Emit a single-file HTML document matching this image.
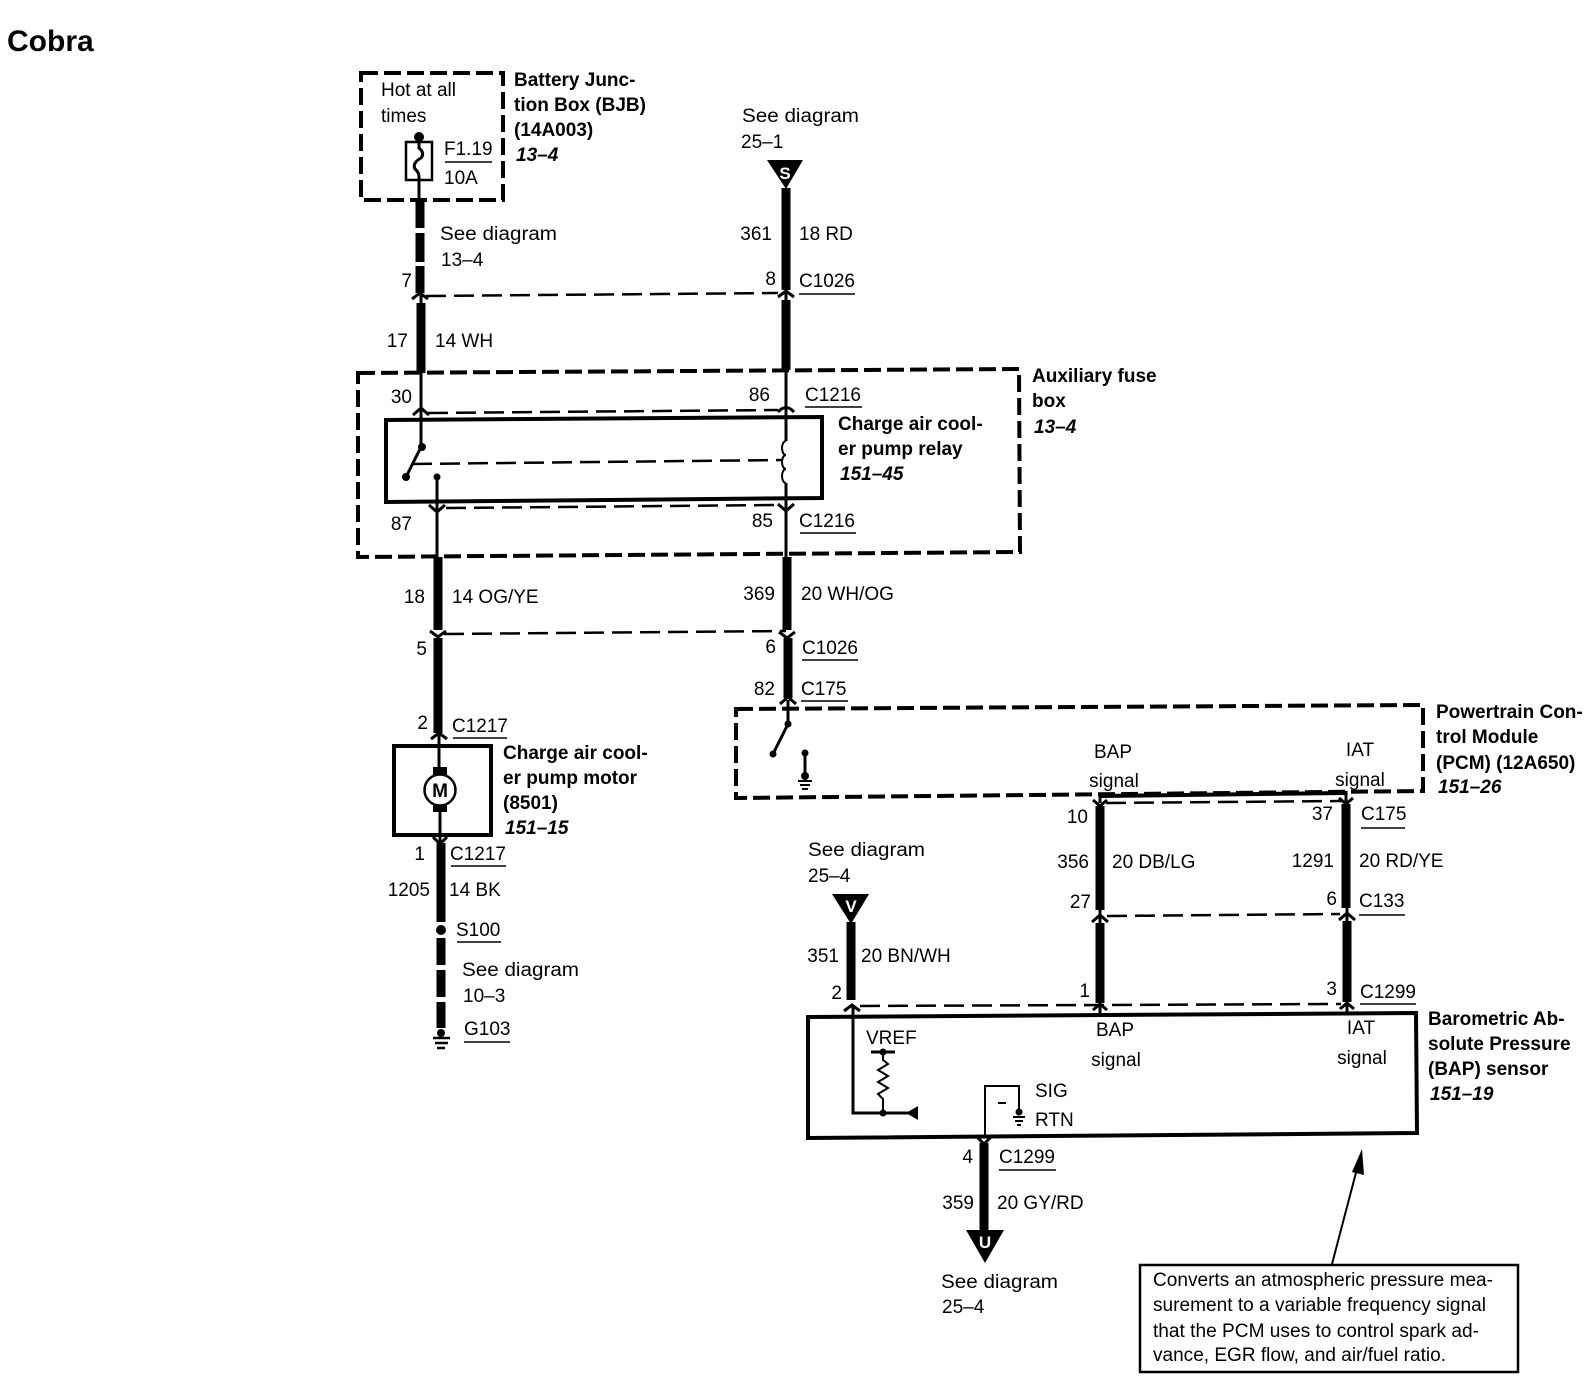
<!DOCTYPE html>
<html><head><meta charset="utf-8"><title>Cobra</title>
<style>
html,body{margin:0;padding:0;background:#fff}
svg{display:block}
text{font-family:"Liberation Sans",sans-serif;font-size:19px;fill:#000}
.b{font-weight:bold}
.bi{font-weight:bold;font-style:italic}
.e{text-anchor:end}
.m{text-anchor:middle}
.t{stroke:#000;stroke-width:9;fill:none}
.w{stroke:#000;stroke-width:3;fill:none}
.bx{stroke:#000;stroke-width:4;fill:none}
.d{stroke:#000;stroke-width:4;fill:none;stroke-dasharray:17 6}
.c{stroke:#000;stroke-width:2.5;fill:none;stroke-dasharray:20 8}
.u{stroke:#000;stroke-width:1.5;fill:none}
.a{stroke:#000;stroke-width:3;fill:none}
</style></head><body>
<svg width="1590" height="1392" viewBox="0 0 1590 1392" xmlns="http://www.w3.org/2000/svg">
<rect width="1590" height="1392" fill="#fff"/>
<text x="7" y="51" class="b" style="font-size:30px">Cobra</text>

<!-- BJB -->
<polygon class="d" points="361,73 503,73 503,200 361,200"/>
<text x="381" y="96">Hot at all</text>
<text x="381" y="122">times</text>
<circle cx="419" cy="137" r="5"/>
<rect x="406" y="142" width="26" height="38" fill="none" stroke="#000" stroke-width="2.5"/>
<path class="w" d="M419 137V148q6 5 2 10q-9 5 -6 11q4 3 4 8V200"/>
<text x="444" y="155">F1.19</text>
<path class="u" d="M445 162H492"/>
<text x="444" y="184">10A</text>
<text x="514" y="86" class="b">Battery Junc-</text>
<text x="514" y="111" class="b">tion Box (BJB)</text>
<text x="514" y="136" class="b">(14A003)</text>
<text x="516" y="161" class="bi">13–4</text>

<!-- wire 1 -->
<path class="t" d="M420 200V228M420 233V262M420 266V293M421 303V373"/>
<path class="a" d="M412 299L420 293L428 299"/>
<text x="440" y="240" textLength="117" lengthAdjust="spacingAndGlyphs">See diagram</text>
<text x="441" y="266">13–4</text>
<text x="412" y="287" class="e">7</text>
<text x="408" y="347" class="e">17</text>
<text x="435" y="347">14 WH</text>
<path class="w" d="M421 293V303"/>

<!-- S wire -->
<text x="742" y="122" textLength="117" lengthAdjust="spacingAndGlyphs">See diagram</text>
<text x="741" y="148">25–1</text>
<polygon points="767,160 803,160 786,189"/>
<text x="785" y="179" class="b m" style="fill:#fff;font-size:17px">S</text>
<path class="t" d="M786 188V290M786 300V370"/>
<path class="w" d="M786 290V300"/>
<path class="a" d="M778 297L786 291L794 297"/>
<text x="772" y="240" class="e">361</text>
<text x="799" y="240">18 RD</text>
<text x="776" y="285" class="e">8</text>
<text x="799" y="287">C1026</text>
<path class="u" d="M799 294H855"/>
<path class="c" d="M426 296L778 293"/>

<!-- Aux fuse box -->
<polygon class="d" points="358,373 1019,369 1020,552 358,557"/>
<text x="1032" y="382" class="b">Auxiliary fuse</text>
<text x="1032" y="407" class="b">box</text>
<text x="1034" y="433" class="bi">13–4</text>
<text x="412" y="403" class="e">30</text>
<text x="770" y="401" class="e">86</text>
<text x="805" y="401">C1216</text>
<path class="u" d="M805 407H862"/>
<path class="c" d="M428 413L778 410"/>
<path class="a" d="M413 415L421 408L429 415"/>
<path class="a" d="M778 412Q786 403 794 412"/>
<polygon class="bx" points="386,420 822,417 822,498 386,502"/>
<path class="w" d="M421 373V447"/>
<path class="w" d="M421 447L406 477"/>
<circle cx="422" cy="447" r="4"/><circle cx="406" cy="477" r="4"/>
<path class="c" d="M412 464L782 460"/>
<circle cx="437" cy="477" r="3.5"/>
<path class="w" d="M437 477V557"/>
<path class="a" d="M429 505L437 512L445 505"/>
<path class="c" d="M446 508L780 505"/>
<path class="w" d="M786 370V441M786 483V557"/>
<path stroke="#000" stroke-width="2" fill="none" d="M786 441a4 7 0 0 0 0 14a4 7 0 0 0 0 14a4 7 0 0 0 0 14"/>
<path class="a" d="M778 504L786 511L794 504"/>
<text x="838" y="430" class="b">Charge air cool-</text>
<text x="838" y="455" class="b">er pump relay</text>
<text x="840" y="480" class="bi">151–45</text>
<text x="412" y="530" class="e">87</text>
<text x="773" y="527" class="e">85</text>
<text x="799" y="527">C1216</text>
<path class="u" d="M800 533H856"/>

<!-- lower left wire -->
<path class="t" d="M438 557V630M438 638V733"/>
<path class="a" d="M430 631L438 637L446 631"/>
<path class="c" d="M444 634L786 631"/>
<text x="425" y="603" class="e">18</text>
<text x="452" y="603">14 OG/YE</text>
<text x="427" y="655" class="e">5</text>
<text x="428" y="729" class="e">2</text>
<text x="452" y="732">C1217</text>
<path class="u" d="M453 738H507"/>
<path class="a" d="M431 739L439 733L447 739"/>
<rect x="394" y="746" width="97" height="89" class="bx"/>
<path class="w" d="M439 735V767M440 812V843"/>
<rect x="433" y="767" width="14" height="8"/>
<rect x="433" y="803" width="14" height="9"/>
<circle cx="440" cy="790" r="15.5" fill="#fff" stroke="#000" stroke-width="2.5"/>
<text x="440" y="797" class="b m">M</text>
<text x="503" y="759" class="b">Charge air cool-</text>
<text x="503" y="784" class="b">er pump motor</text>
<text x="503" y="809" class="b">(8501)</text>
<text x="505" y="834" class="bi">151–15</text>
<path class="a" d="M433 837L440 844L447 837"/>
<path class="t" d="M441 843V922M441 938V965M441 970V997M441 1002V1028"/>
<circle cx="441" cy="930" r="5"/>
<text x="425" y="860" class="e">1</text>
<text x="450" y="860">C1217</text>
<path class="u" d="M451 866H506"/>
<text x="430" y="896" class="e">1205</text>
<text x="449" y="896">14 BK</text>
<text x="456" y="936">S100</text>
<path class="u" d="M457 942H501"/>
<text x="462" y="976" textLength="117" lengthAdjust="spacingAndGlyphs">See diagram</text>
<text x="463" y="1002">10–3</text>
<text x="464" y="1035">G103</text>
<path class="u" d="M464 1042H510"/>
<circle cx="441" cy="1033" r="4"/>
<path stroke="#000" stroke-width="2.5" d="M433 1038H450M435 1043H448M437 1048H445"/>

<!-- middle wire -->
<path class="t" d="M787 557V630M788 638V698"/>
<path class="a" d="M779 632L787 638L795 632"/>
<path class="a" d="M780 704L788 697L796 704"/>
<text x="775" y="600" class="e">369</text>
<text x="801" y="600">20 WH/OG</text>
<text x="776" y="653" class="e">6</text>
<text x="802" y="654">C1026</text>
<path class="u" d="M802 660H858"/>
<text x="775" y="695" class="e">82</text>
<text x="801" y="695">C175</text>
<path class="u" d="M801 701H848"/>

<!-- PCM -->
<polygon class="d" points="736,709 1423,705 1423,791 736,798"/>
<text x="1436" y="718" class="b">Powertrain Con-</text>
<text x="1436" y="743" class="b">trol Module</text>
<text x="1436" y="769" class="b">(PCM) (12A650)</text>
<text x="1438" y="793" class="bi">151–26</text>
<path class="w" d="M788 700V724L773 754"/>
<circle cx="788" cy="724" r="3.5"/><circle cx="773" cy="754" r="3.5"/>
<circle cx="805" cy="753" r="3.5"/>
<path class="w" d="M805 753V774"/>
<circle cx="805" cy="776" r="4"/>
<path stroke="#000" stroke-width="2" d="M798 781H812M800 785H810M802 789H808"/>
<text x="1113" y="758" class="m">BAP</text>
<text x="1114" y="787" class="m">signal</text>
<text x="1360" y="756" class="m">IAT</text>
<text x="1360" y="786" class="m">signal</text>

<!-- BAP / IAT wires -->
<path class="w" d="M1100 796V803M1346 791V803"/>
<path stroke="#000" stroke-width="4" fill="none" d="M1100 796L1346 793"/>
<path class="c" d="M1106 803L1342 801"/>
<path class="t" d="M1100 806V910M1100 923V1003M1346 804V908M1347 921V1002"/>
<path class="w" d="M1100 910V923M1347 908V921"/>
<path class="a" d="M1093 800L1100 806L1107 800"/>
<path class="a" d="M1339 798L1346 804L1353 798"/>
<path class="a" d="M1092 922L1100 915L1108 922"/>
<path class="a" d="M1339 920L1347 913L1355 920"/>
<path class="c" d="M1107 916L1340 914"/>
<text x="1088" y="823" class="e">10</text>
<text x="1333" y="820" class="e">37</text>
<text x="1361" y="820">C175</text>
<path class="u" d="M1361 828H1405"/>
<text x="1089" y="868" class="e">356</text>
<text x="1112" y="868">20 DB/LG</text>
<text x="1334" y="867" class="e">1291</text>
<text x="1359" y="867">20 RD/YE</text>
<text x="1091" y="908" class="e">27</text>
<text x="1337" y="905" class="e">6</text>
<text x="1359" y="907">C133</text>
<path class="u" d="M1359 915H1405"/>
<text x="1090" y="997" class="e">1</text>
<text x="1337" y="995" class="e">3</text>
<text x="1360" y="998">C1299</text>
<path class="u" d="M1360 1004H1416"/>

<!-- V wire -->
<text x="808" y="856" textLength="117" lengthAdjust="spacingAndGlyphs">See diagram</text>
<text x="808" y="882">25–4</text>
<polygon points="832,894 869,894 851,924"/>
<text x="851" y="912" class="b m" style="fill:#fff;font-size:17px">V</text>
<path class="t" d="M851 922V1000"/>
<text x="839" y="962" class="e">351</text>
<text x="861" y="962">20 BN/WH</text>
<text x="842" y="999" class="e">2</text>
<path class="a" d="M844 1011L852 1005L860 1011"/>
<path class="c" d="M860 1006L1341 1004"/>
<path class="a" d="M1093 1010L1100 1004L1107 1010"/>
<path class="a" d="M1340 1009L1347 1003L1354 1009"/>
<path class="w" d="M1100 1004V1014M1347 1003V1012"/>

<!-- sensor -->
<polygon class="bx" points="808,1017 1416,1013 1417,1133 808,1138"/>
<text x="1428" y="1025" class="b">Barometric Ab-</text>
<text x="1428" y="1050" class="b">solute Pressure</text>
<text x="1428" y="1075" class="b">(BAP) sensor</text>
<text x="1430" y="1100" class="bi">151–19</text>
<text x="1115" y="1036" class="m">BAP</text>
<text x="1116" y="1066" class="m">signal</text>
<text x="1361" y="1034" class="m">IAT</text>
<text x="1362" y="1064" class="m">signal</text>
<text x="866" y="1044">VREF</text>
<path class="w" d="M871 1052H895"/>
<circle cx="883" cy="1052" r="3.5"/>
<path stroke="#000" stroke-width="2" fill="none" d="M883 1054V1060L888 1064L878 1070L888 1076L878 1082L888 1088L878 1094L883 1099V1112"/>
<path class="w" d="M853 1005V1113H908"/>
<circle cx="883" cy="1113" r="3.5"/>
<polygon points="906,1113 918,1106 918,1120"/>
<path stroke="#000" stroke-width="2" fill="none" d="M985 1138V1086H1019V1110"/>
<path stroke="#000" stroke-width="2" d="M998 1103H1006"/>
<circle cx="1019" cy="1112" r="3.5"/>
<path stroke="#000" stroke-width="2" d="M1013 1117H1025M1015 1121H1023M1017 1125H1021"/>
<text x="1035" y="1097">SIG</text>
<text x="1035" y="1126">RTN</text>

<!-- U wire -->
<path class="a" d="M977 1137L984 1144L991 1137"/>
<path class="t" d="M984 1143V1232"/>
<text x="973" y="1163" class="e">4</text>
<text x="999" y="1163">C1299</text>
<path class="u" d="M999 1170H1056"/>
<text x="974" y="1209" class="e">359</text>
<text x="997" y="1209">20 GY/RD</text>
<polygon points="966,1230 1004,1230 985,1263"/>
<text x="985" y="1248" class="b m" style="fill:#fff;font-size:17px">U</text>
<text x="941" y="1288" textLength="117" lengthAdjust="spacingAndGlyphs">See diagram</text>
<text x="942" y="1313">25–4</text>

<!-- note -->
<path stroke="#000" stroke-width="2" d="M1332 1264L1358 1165"/>
<polygon points="1362,1149 1352,1172 1364,1175"/>
<rect x="1140" y="1265" width="378" height="107" fill="none" stroke="#000" stroke-width="2.5"/>
<text x="1153" y="1286" textLength="340" lengthAdjust="spacingAndGlyphs">Converts an atmospheric pressure mea-</text>
<text x="1153" y="1311" textLength="333" lengthAdjust="spacingAndGlyphs">surement to a variable frequency signal</text>
<text x="1153" y="1337" textLength="326" lengthAdjust="spacingAndGlyphs">that the PCM uses to control spark ad-</text>
<text x="1153" y="1361" textLength="293" lengthAdjust="spacingAndGlyphs">vance, EGR flow, and air/fuel ratio.</text>
</svg>
</body></html>
